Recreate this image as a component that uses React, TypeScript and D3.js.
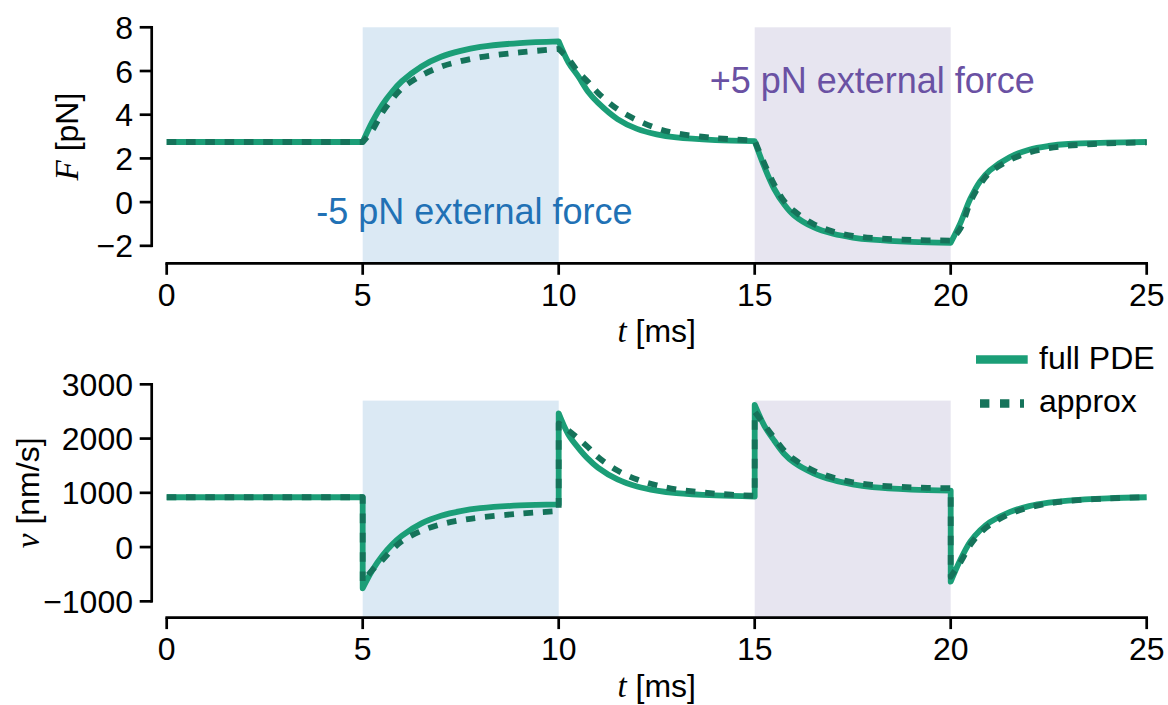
import React from 'react';
import * as d3 from 'd3';

// time grid inside each 5 ms interval (ms after the step)
const timeOffsets = [0, 0.25, 0.5, 0.75, 1, 1.5, 2, 2.5, 3, 4, 5];
const stepTimes = [5, 10, 15, 20];

const xTicks = [0, 5, 10, 15, 20, 25];
const forceTicks = [-2, 0, 2, 4, 6, 8];
const velocityTicks = [-1000, 0, 1000, 2000, 3000];
const forceLim = [-2.8, 8];
const velocityLim = [-1300, 2700];

const pulseNegative = [5, 10];
const pulsePositive = [15, 20];

const forceRest = 2.75;
const velocityRest = 918;

// F [pN], full PDE, one list per interval after each step
const forceFull = [
  [2.75, 3.69, 4.45, 5.05, 5.53, 6.21, 6.65, 6.92, 7.1, 7.28, 7.36],
  [7.36, 6.39, 5.75, 5.05, 4.55, 3.8, 3.35, 3.1, 2.96, 2.84, 2.79],
  [2.79, 1.6, 0.6, -0.1, -0.6, -1.15, -1.45, -1.62, -1.72, -1.82, -1.86],
  [-1.86, -0.95, 0.15, 0.95, 1.45, 2.05, 2.4, 2.57, 2.66, 2.72, 2.75],
];

// F [pN], approximation
const forceApprox = [
  [2.75, 3.3, 4.1, 4.7, 5.2, 5.8, 6.2, 6.45, 6.63, 6.85, 7.01],
  [7.01, 6.55, 5.95, 5.5, 5.0, 4.25, 3.75, 3.38, 3.15, 2.93, 2.82],
  [2.82, 1.75, 0.8, 0.05, -0.4, -1.0, -1.35, -1.54, -1.64, -1.73, -1.76],
  [-1.76, -1.2, 0.0, 0.8, 1.35, 1.92, 2.27, 2.47, 2.58, 2.69, 2.73],
];

// v [nm/s], full PDE
const velocityFull = [
  [-759, -423, -161, 47, 209, 437, 577, 663, 716, 768, 788],
  [2466, 2070, 1830, 1625, 1465, 1246, 1116, 1040, 994, 952, 932],
  [2619, 2230, 1960, 1720, 1560, 1360, 1235, 1155, 1105, 1060, 1040],
  [-638, -230, 100, 310, 460, 645, 755, 818, 857, 897, 918],
];

// v [nm/s], approximation
const velocityApprox = [
  [-640, -420, -240, -50, 110, 300, 420, 495, 545, 615, 665],
  [2282, 2150, 2000, 1840, 1660, 1410, 1245, 1140, 1065, 985, 945],
  [2496, 2250, 2010, 1780, 1620, 1410, 1280, 1195, 1145, 1100, 1085],
  [-546, -280, 40, 260, 410, 610, 730, 805, 850, 895, 922],
];

const fullColor = '#1b9e77';
const approxColor = '#15735a';
const blueShade = '#dbe9f4';
const purpleShade = '#e7e5f0';
const sans = "'Liberation Sans', Arial, Helvetica, sans-serif";
const mathFont = "'Liberation Serif', 'Times New Roman', serif";

const x = d3.scaleLinear().domain([0, 25]).range([166.7, 1146.7]);

const toSegments = (rest: number, pieces: number[][]) => {
  const segs: [number, number][][] = [[[0, rest], [5, rest]]];
  pieces.forEach((vals, k) => {
    segs.push(vals.map((v, i) => [stepTimes[k] + timeOffsets[i], v] as [number, number]));
  });
  return segs;
};

const buildPath = (segs: [number, number][][], y: d3.ScaleLinear<number, number>) => {
  const gen = d3
    .line<[number, number]>()
    .x((d) => x(d[0]))
    .y((d) => y(d[1]))
    .curve(d3.curveCatmullRom.alpha(0.5));
  return segs
    .map((s, i) => {
      const p = gen(s) || '';
      return i === 0 ? p : 'L' + p.slice(1);
    })
    .join('');
};

const fmt = (v: number) => String(v).replace('-', '\u2212');

type PanelProps = {
  y: d3.ScaleLinear<number, number>;
  lim: number[];
  ticks: number[];
  rest: number;
  full: number[][];
  approx: number[][];
  label: string;
  unit: string;
  labelX: number;
};

const Panel = ({ y, lim, ticks, rest, full, approx, label, unit, labelX }: PanelProps) => {
  const top = y(lim[1]);
  const bottom = y(lim[0]);
  const spineX = 151.7;
  const yMin = d3.min(ticks) as number;
  const yMax = d3.max(ticks) as number;
  const midY = (y(yMin) + y(yMax)) / 2;
  return (
    <g>
      {[pulseNegative, pulsePositive].map((p, i) => (
        <rect
          key={i}
          x={x(p[0])}
          y={top}
          width={x(p[1]) - x(p[0])}
          height={bottom - top}
          fill={i === 0 ? blueShade : purpleShade}
        />
      ))}
      <path
        d={buildPath(toSegments(rest, full), y)}
        fill="none"
        stroke={fullColor}
        strokeWidth={5.8}
        strokeLinejoin="round"
      />
      <path
        d={buildPath(toSegments(rest, approx), y)}
        fill="none"
        stroke={approxColor}
        strokeWidth={5.8}
        strokeDasharray="9.6,9.7"
        strokeLinejoin="round"
      />
      {/* y axis */}
      <line x1={spineX} x2={spineX} y1={y(yMin) + 1.3} y2={y(yMax) - 1.3} stroke="#000" strokeWidth={2.7} />
      {ticks.map((t) => (
        <g key={t}>
          <line x1={spineX - 12} x2={spineX} y1={y(t)} y2={y(t)} stroke="#000" strokeWidth={2.7} />
          <text x={133} y={y(t) + 11.5} textAnchor="end" fontSize={32} fontFamily={sans}>
            {fmt(t)}
          </text>
        </g>
      ))}
      <text
        transform={`translate(${labelX},${midY}) rotate(-90)`}
        textAnchor="middle"
        fontSize={32}
        fontFamily={sans}
      >
        <tspan fontFamily={mathFont} fontStyle="italic" fontSize={33}>
          {label}
        </tspan>
        <tspan> {unit}</tspan>
      </text>
      {/* x axis */}
      <line x1={x(0) - 1.3} x2={x(25) + 1.3} y1={bottom} y2={bottom} stroke="#000" strokeWidth={2.7} />
      {xTicks.map((t) => (
        <g key={t}>
          <line x1={x(t)} x2={x(t)} y1={bottom} y2={bottom + 11.5} stroke="#000" strokeWidth={2.7} />
          <text x={x(t)} y={bottom + 42.5} textAnchor="middle" fontSize={32} fontFamily={sans}>
            {t}
          </text>
        </g>
      ))}
      <text x={x(12.5)} y={bottom + 79} textAnchor="middle" fontSize={32} fontFamily={sans}>
        <tspan fontFamily={mathFont} fontStyle="italic" fontSize={33}>
          t
        </tspan>
        <tspan> [ms]</tspan>
      </text>
    </g>
  );
};

const App = () => {
  const yForce = d3.scaleLinear().domain(forceLim).range([263.3, 27.3]);
  const yVelocity = d3.scaleLinear().domain(velocityLim).range([617.6, 400.6]);

  return (
    <svg
      width={1168}
      height={705}
      style={{ position: 'absolute', left: 0, top: 0, background: '#fff' }}
    >
      <Panel
        y={yForce}
        lim={forceLim}
        ticks={forceTicks}
        rest={forceRest}
        full={forceFull}
        approx={forceApprox}
        label="F"
        unit="[pN]"
        labelX={78}
      />
      <Panel
        y={yVelocity}
        lim={velocityLim}
        ticks={velocityTicks}
        rest={velocityRest}
        full={velocityFull}
        approx={velocityApprox}
        label="v"
        unit="[nm/s]"
        labelX={38.5}
      />
      <text x={x(7.85)} y={yForce(-1)} textAnchor="middle" fontSize={36} fontFamily={sans} fill="#2171b5">
        -5 pN external force
      </text>
      <text x={x(18)} y={yForce(5)} textAnchor="middle" fontSize={36} fontFamily={sans} fill="#6a51a3">
        +5 pN external force
      </text>
      {/* legend */}
      <line x1={976} x2={1027.7} y1={359.5} y2={359.5} stroke={fullColor} strokeWidth={8.5} />
      <line x1={980} x2={1024} y1={403.5} y2={403.5} stroke={approxColor} strokeWidth={8.5} strokeDasharray="9.4,10.6" />
      <text x={1039} y={368.5} fontSize={32} fontFamily={sans}>
        full PDE
      </text>
      <text x={1039} y={412} fontSize={32} fontFamily={sans}>
        approx
      </text>
    </svg>
  );
};

export default App;
